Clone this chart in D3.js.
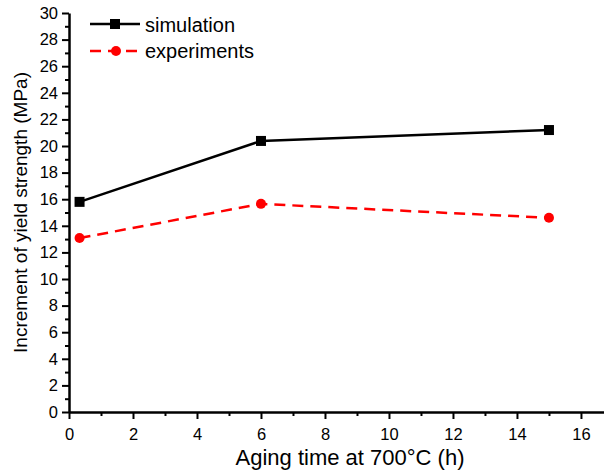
<!DOCTYPE html>
<html>
<head>
<meta charset="utf-8">
<script src="https://cdn.jsdelivr.net/npm/d3@7"></script>
<style>
  body { margin: 0; background: #fff; }
  svg text { font-family: "Liberation Sans", Arial, sans-serif; fill: #000; }
</style>
</head>
<body>
<div id="chart"></div>
<script>
var svgWidth = 604;
var svgHeight = 471;

// data
var agingTime = [0.33, 6, 15];
var simulation = [15.8, 20.38, 21.2];
var experiments = [13.08, 15.65, 14.6];
var xTicks = [0, 2, 4, 6, 8, 10, 12, 14, 16];
var yTicks = [0, 2, 4, 6, 8, 10, 12, 14, 16, 18, 20, 22, 24, 26, 28, 30];

var margin = { top: 13, right: 0, bottom: 59, left: 69 };
var width = svgWidth - margin.left - margin.right;
var height = svgHeight - margin.top - margin.bottom;

var svg = d3.select("#chart")
  .append("svg")
  .attr("width", svgWidth)
  .attr("height", svgHeight);

var chartGroup = svg.append("g")
  .attr("transform", `translate(${margin.left}, ${margin.top})`);

var xScale = d3.scaleLinear().domain([0, 16.72]).range([0, width]);
var yScale = d3.scaleLinear().domain([0, 30]).range([height, 0]);

// minor ticks
var xMinor = d3.range(1, 17, 2);
var yMinor = d3.range(1, 30, 2);

chartGroup.append("g")
  .attr("transform", `translate(0, ${height})`)
  .call(d3.axisBottom(xScale).tickValues(xMinor).tickSize(4).tickFormat(""))
  .call(g => g.select(".domain").remove())
  .selectAll("line").attr("stroke-width", 2);

chartGroup.append("g")
  .call(d3.axisLeft(yScale).tickValues(yMinor).tickSize(4).tickFormat(""))
  .call(g => g.select(".domain").remove())
  .selectAll("line").attr("stroke-width", 2);

var bottomAxis = chartGroup.append("g")
  .attr("transform", `translate(0, ${height})`)
  .call(d3.axisBottom(xScale).tickValues(xTicks).tickSize(7).tickSizeOuter(0).tickPadding(9));

var leftAxis = chartGroup.append("g")
  .call(d3.axisLeft(yScale).tickValues(yTicks).tickSize(7).tickSizeOuter(0).tickPadding(4));

[bottomAxis, leftAxis].forEach(function(ax) {
  ax.select(".domain").attr("stroke-width", 2.5);
  ax.selectAll(".tick line").attr("stroke-width", 2);
  ax.selectAll(".tick text").style("font-size", "16.5px");
});

// series
var sim = agingTime.map((t, i) => ({ x: t, y: simulation[i] }));
var exp = agingTime.map((t, i) => ({ x: t, y: experiments[i] }));

var line = d3.line().x(d => xScale(d.x)).y(d => yScale(d.y));

chartGroup.append("path")
  .datum(exp)
  .attr("d", line)
  .attr("fill", "none")
  .attr("stroke", "#ff0000")
  .attr("stroke-width", 2.5)
  .attr("stroke-dasharray", "11,7");

chartGroup.selectAll(".expDot")
  .data(exp)
  .enter()
  .append("circle")
  .attr("cx", d => xScale(d.x))
  .attr("cy", d => yScale(d.y))
  .attr("r", 5)
  .attr("fill", "#ff0000");

chartGroup.append("path")
  .datum(sim)
  .attr("d", line)
  .attr("fill", "none")
  .attr("stroke", "#000")
  .attr("stroke-width", 2.5);

chartGroup.selectAll(".simDot")
  .data(sim)
  .enter()
  .append("rect")
  .attr("x", d => xScale(d.x) - 5)
  .attr("y", d => yScale(d.y) - 5)
  .attr("width", 10)
  .attr("height", 10)
  .attr("fill", "#000");

// legend
var legend = svg.append("g");
legend.append("line")
  .attr("x1", 90).attr("x2", 140).attr("y1", 24).attr("y2", 24)
  .attr("stroke", "#000").attr("stroke-width", 2.5);
legend.append("rect")
  .attr("x", 110).attr("y", 19).attr("width", 10).attr("height", 10)
  .attr("fill", "#000");
legend.append("text")
  .attr("x", 145).attr("y", 32)
  .style("font-size", "20px")
  .text("simulation");

legend.append("line")
  .attr("x1", 90).attr("x2", 140).attr("y1", 51).attr("y2", 51)
  .attr("stroke", "#ff0000").attr("stroke-width", 2.5)
  .attr("stroke-dasharray", "11,7");
legend.append("circle")
  .attr("cx", 116).attr("cy", 51).attr("r", 5)
  .attr("fill", "#ff0000");
legend.append("text")
  .attr("x", 145).attr("y", 58)
  .style("font-size", "20px")
  .text("experiments");

// axis titles
svg.append("text")
  .attr("transform", "rotate(-90)")
  .attr("x", -(margin.top + height / 2))
  .attr("y", 27)
  .attr("text-anchor", "middle")
  .style("font-size", "19px")
  .text("Increment of yield strength (MPa)");

svg.append("text")
  .attr("x", 350)
  .attr("y", 465)
  .attr("text-anchor", "middle")
  .style("font-size", "22px")
  .text("Aging time at 700°C (h)");
</script>
</body>
</html>
